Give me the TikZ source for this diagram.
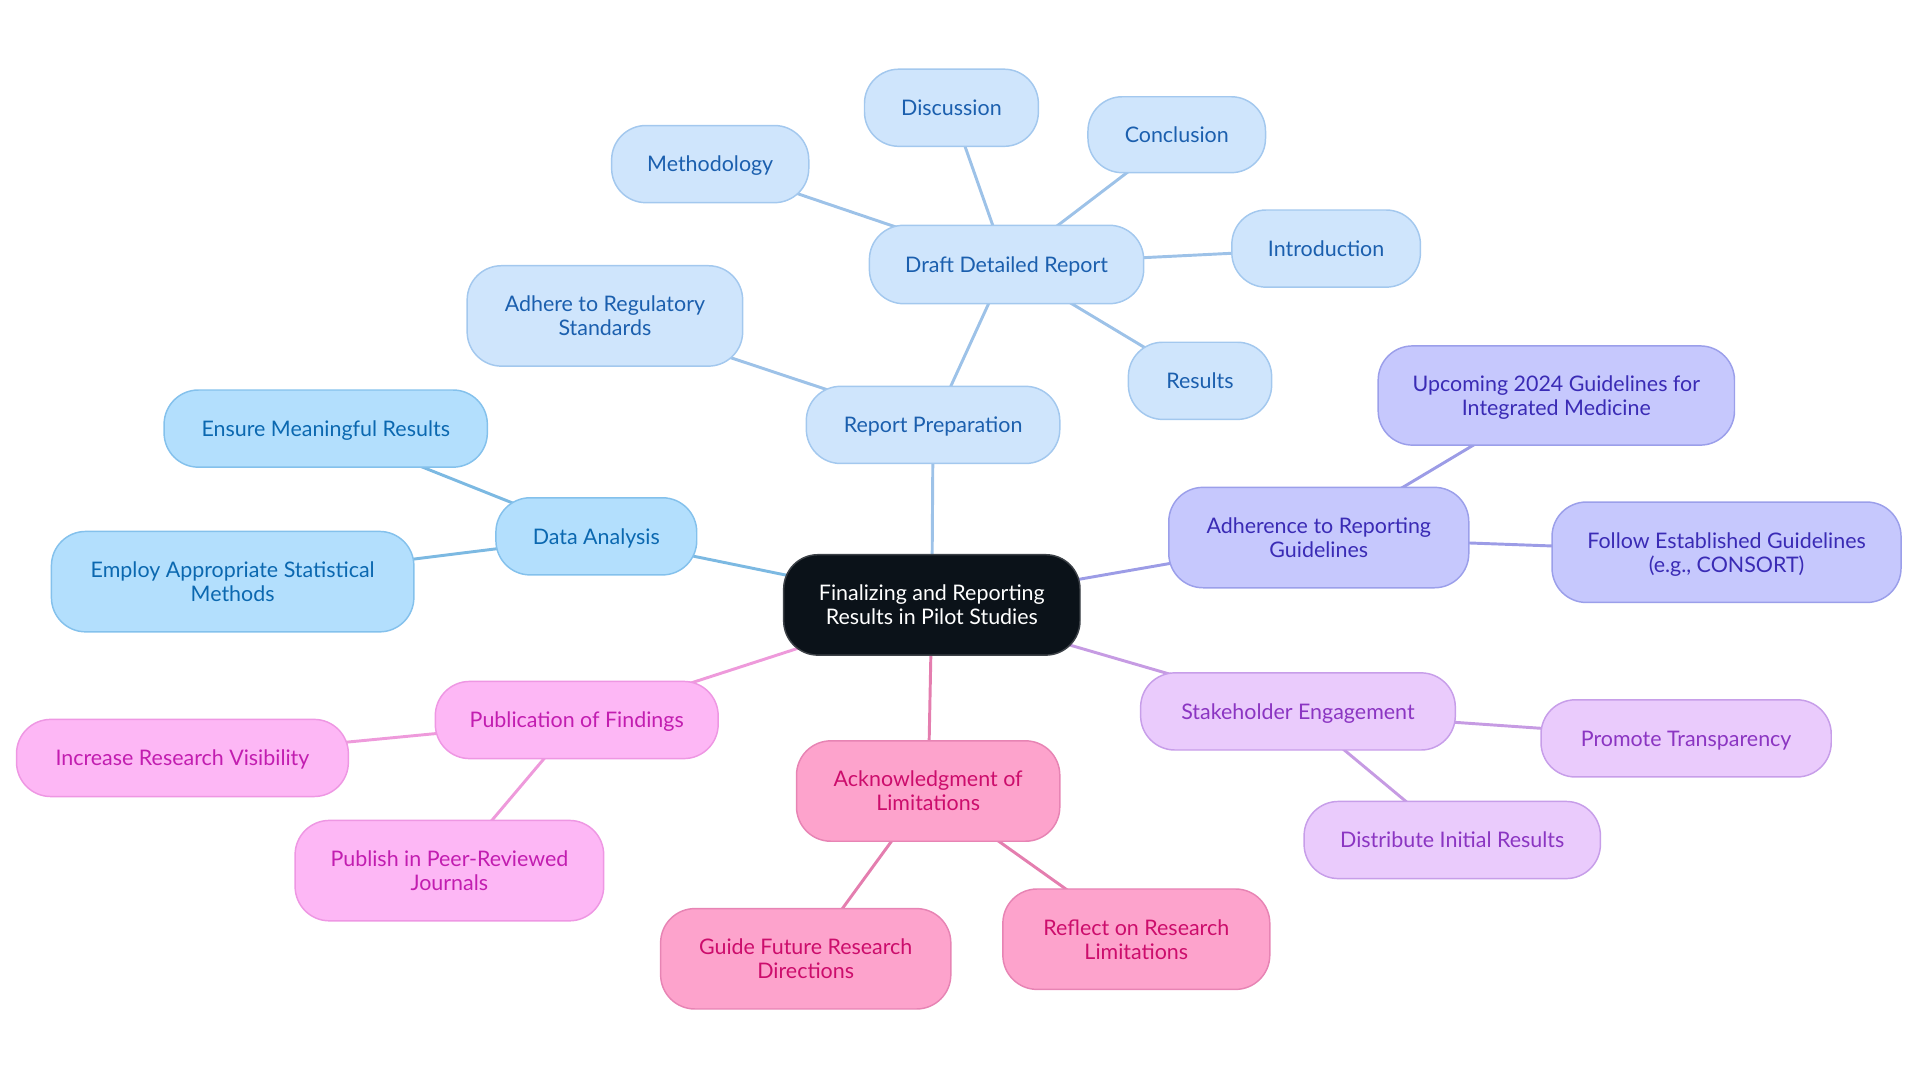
\documentclass[tikz,border=0pt]{standalone}
\usepackage{fontspec}
\setmainfont{Lato}
\usetikzlibrary{backgrounds}
\definecolor{cfill}{HTML}{0B1219}
\definecolor{bAfill}{HTML}{CFE5FC}\definecolor{bAdraw}{HTML}{A3C8EE}\definecolor{bAtext}{HTML}{1B5FAE}\definecolor{bAline}{HTML}{9DC2E8}
\definecolor{bBfill}{HTML}{B3DFFD}\definecolor{bBdraw}{HTML}{84C1EC}\definecolor{bBtext}{HTML}{0B68B0}\definecolor{bBline}{HTML}{7CB9E2}
\definecolor{vfill}{HTML}{C6C8FD}\definecolor{vdraw}{HTML}{9B9FEA}\definecolor{vtext}{HTML}{3A2BB5}\definecolor{vline}{HTML}{9C9CE6}
\definecolor{pfill}{HTML}{EACBFC}\definecolor{pdraw}{HTML}{C79EE9}\definecolor{ptext}{HTML}{8B35C2}\definecolor{pline}{HTML}{C69BE3}
\definecolor{kfill}{HTML}{FDA3CC}\definecolor{kdraw}{HTML}{E784B4}\definecolor{ktext}{HTML}{CC0D6C}\definecolor{kline}{HTML}{E47EAF}
\definecolor{mfill}{HTML}{FDB7F5}\definecolor{mdraw}{HTML}{EE97E3}\definecolor{mtext}{HTML}{C21DB0}\definecolor{mline}{HTML}{EE9ADB}
\tikzset{
  box/.style={rectangle, rounded corners=28pt, inner sep=0pt, align=center, line width=1.2pt,
     font=\fontsize{17.5}{19.5}\selectfont, text depth=-1pt},
  sz/.style 2 args={minimum width=#1pt, minimum height=#2pt},
  root/.style={box, fill=cfill, draw=cfill!80!white, text=white},
  bA/.style={box, fill=bAfill, draw=bAdraw, text=bAtext},
  bB/.style={box, fill=bBfill, draw=bBdraw, text=bBtext},
  vi/.style={box, fill=vfill, draw=vdraw, text=vtext},
  pu/.style={box, fill=pfill, draw=pdraw, text=ptext},
  pk/.style={box, fill=kfill, draw=kdraw, text=ktext},
  mg/.style={box, fill=mfill, draw=mdraw, text=mtext},
  edge/.style={line width=2.4pt}
}
\begin{document}
\begin{tikzpicture}[x=1pt,y=-1pt]
\useasboundingbox (0,0) rectangle (1568,884);
\node[root, sz={242}{82}] (c) at (761,494) {Finalizing and Reporting\\Results in Pilot Studies};
% report branch
\node[bA, sz={207}{63}] (rp) at (762,347) {Report Preparation};
\node[bA, sz={224}{64}] (dd) at (822,216) {Draft Detailed Report};
\node[bA, sz={161}{63}] (me) at (580,134) {Methodology};
\node[bA, sz={142}{63}] (di) at (777,88) {Discussion};
\node[bA, sz={145}{62}] (co) at (961,110) {Conclusion};
\node[bA, sz={154}{63}] (in) at (1083,203) {Introduction};
\node[bA, sz={117}{63}] (re) at (980,311) {Results};
\node[bA, sz={225}{82}] (ad) at (494,258) {Adhere to Regulatory\\Standards};
% data analysis
\node[bB, sz={164}{63}] (da) at (487,438) {Data Analysis};
\node[bB, sz={264}{63}] (em) at (266,350) {Ensure Meaningful Results};
\node[bB, sz={296}{82}] (ea) at (190,475) {Employ Appropriate Statistical\\Methods};
% adherence
\node[vi, sz={245}{82}] (ar) at (1077,439) {Adherence to Reporting\\Guidelines};
\node[vi, sz={291}{81}] (up) at (1271,323) {Upcoming 2024 Guidelines for\\Integrated Medicine};
\node[vi, sz={285}{82}] (fe) at (1410,451) {Follow Established Guidelines\\(e.g., CONSORT)};
% stakeholder
\node[pu, sz={257}{63}] (se) at (1060,581) {Stakeholder Engagement};
\node[pu, sz={237}{63}] (pt) at (1377,603) {Promote Transparency};
\node[pu, sz={242}{63}] (dr) at (1186,686) {Distribute Initial Results};
% acknowledgment
\node[pk, sz={215}{82}] (ak) at (758,646) {Acknowledgment of\\Limitations};
\node[pk, sz={237}{82}] (gf) at (658,783) {Guide Future Research\\Directions};
\node[pk, sz={218}{82}] (rr) at (928,767) {Reflect on Research\\Limitations};
% publication
\node[mg, sz={231}{63}] (pf) at (471,588) {Publication of Findings};
\node[mg, sz={271}{63}] (ir) at (149,619) {Increase Research Visibility};
\node[mg, sz={252}{82}] (pp) at (367,711) {Publish in Peer-Reviewed\\Journals};
\begin{scope}[on background layer]
\draw[edge, bAline] (c.center) -- (rp.center);
\draw[edge, bAline] (rp.center) -- (dd.center);
\draw[edge, bAline] (rp.center) -- (ad.center);
\draw[edge, bAline] (dd.center) -- (me.center);
\draw[edge, bAline] (dd.center) -- (di.center);
\draw[edge, bAline] (dd.center) -- (co.center);
\draw[edge, bAline] (dd.center) -- (in.center);
\draw[edge, bAline] (dd.center) -- (re.center);
\draw[edge, bBline] (c.center) -- (da.center);
\draw[edge, bBline] (da.center) -- (em.center);
\draw[edge, bBline] (da.center) -- (ea.center);
\draw[edge, vline] (c.center) -- (ar.center);
\draw[edge, vline] (ar.center) -- (up.center);
\draw[edge, vline] (ar.center) -- (fe.center);
\draw[edge, pline] (c.center) -- (se.center);
\draw[edge, pline] (se.center) -- (pt.center);
\draw[edge, pline] (se.center) -- (dr.center);
\draw[edge, kline] (c.center) -- (ak.center);
\draw[edge, kline] (ak.center) -- (gf.center);
\draw[edge, kline] (ak.center) -- (rr.center);
\draw[edge, mline] (c.center) -- (pf.center);
\draw[edge, mline] (pf.center) -- (ir.center);
\draw[edge, mline] (pf.center) -- (pp.center);
\end{scope}
\end{tikzpicture}
\end{document}
